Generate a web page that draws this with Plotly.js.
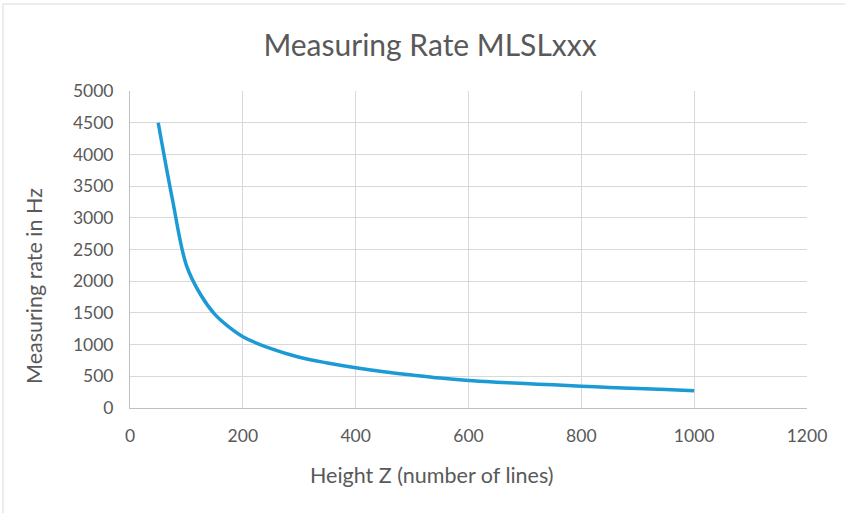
<!DOCTYPE html>
<html>
<head>
<meta charset="utf-8">
<script src="https://cdn.plot.ly/plotly-3.0.1.min.js"></script>
<style>
  html, body { margin: 0; padding: 0; background: #ffffff; }
  #chart { width: 845px; height: 513px; }
</style>
</head>
<body>
<div id="chart"></div>
<script>
// Height Z (number of lines)
const heightZ = [50, 75, 100, 125, 150, 175, 200, 250, 300, 350, 400, 450, 500, 550, 600, 650, 700, 750, 800, 850, 900, 950, 1000];
// Measuring rate in Hz
const rateHz = [4500, 3300, 2250, 1790, 1480, 1280, 1125, 935, 800, 710, 635, 572, 520, 472, 435, 408, 385, 365, 345, 325, 307, 290, 273];

const xTicks = [0, 200, 400, 600, 800, 1000, 1200];
const yTicks = [0, 500, 1000, 1500, 2000, 2500, 3000, 3500, 4000, 4500, 5000];

const chartTitle = 'Measuring Rate MLSLxxx';
const xTitle = 'Height Z (number of lines)';
const yTitle = 'Measuring rate in Hz';

const textColor = '#595959';
const gridColor = '#d9d9d9';
const fontFamily = 'Lato, "Open Sans", sans-serif';

const trace = {
  x: heightZ,
  y: rateHz,
  type: 'scatter',
  mode: 'lines',
  line: { color: '#1b9ad6', width: 3.5, shape: 'spline', smoothing: 1 },
  hoverinfo: 'skip'
};

const layout = {
  width: 845,
  height: 513,
  margin: { l: 130, r: 38, t: 91, b: 105 },
  paper_bgcolor: '#ffffff',
  plot_bgcolor: '#ffffff',
  showlegend: false,
  font: { family: fontFamily, color: textColor, size: 17 },
  title: {
    text: chartTitle,
    font: { family: fontFamily, size: 30, color: textColor },
    x: 430 / 845, xanchor: 'center',
    y: 1 - 45 / 513, yanchor: 'middle'
  },
  xaxis: {
    range: [0, 1200],
    tickvals: xTicks,
    ticktext: xTicks.map(String),
    showgrid: true,
    gridcolor: gridColor,
    gridwidth: 1,
    zeroline: false,
    showline: true,
    linecolor: '#bfbfbf',
    linewidth: 1,
    ticks: '',
    ticklabelstandoff: 12,
    tickfont: { family: fontFamily, size: 17.5, color: textColor },
    fixedrange: true
  },
  yaxis: {
    range: [0, 5000],
    tickvals: yTicks,
    ticktext: yTicks.map(String),
    showgrid: true,
    gridcolor: gridColor,
    gridwidth: 1,
    zeroline: false,
    showline: true,
    linecolor: '#bfbfbf',
    linewidth: 1,
    ticks: '',
    ticklabelstandoff: 12,
    tickfont: { family: fontFamily, size: 17.5, color: textColor },
    fixedrange: true
  },
  annotations: [
    {
      text: xTitle,
      xref: 'paper', yref: 'paper',
      x: (432 - 130) / 677, y: (408 - 475) / 317,
      xanchor: 'center', yanchor: 'middle',
      showarrow: false,
      font: { family: fontFamily, size: 21.5, color: textColor }
    },
    {
      text: yTitle,
      xref: 'paper', yref: 'paper',
      x: (34 - 130) / 677, y: (408 - 286) / 317,
      xanchor: 'center', yanchor: 'middle',
      textangle: -90,
      showarrow: false,
      font: { family: fontFamily, size: 21.5, color: textColor }
    }
  ],
  shapes: [
    {
      type: 'line', xref: 'paper', yref: 'paper',
      x0: (3 - 130) / 677, x1: (845 - 130) / 677,
      y0: (408 - 4) / 317, y1: (408 - 4) / 317,
      line: { color: gridColor, width: 1 }
    },
    {
      type: 'line', xref: 'paper', yref: 'paper',
      x0: (3 - 130) / 677, x1: (3 - 130) / 677,
      y0: (408 - 4) / 317, y1: (408 - 513) / 317,
      line: { color: gridColor, width: 1 }
    }
  ]
};

Plotly.newPlot('chart', [trace], layout, { staticPlot: true, displayModeBar: false });
</script>
</body>
</html>
